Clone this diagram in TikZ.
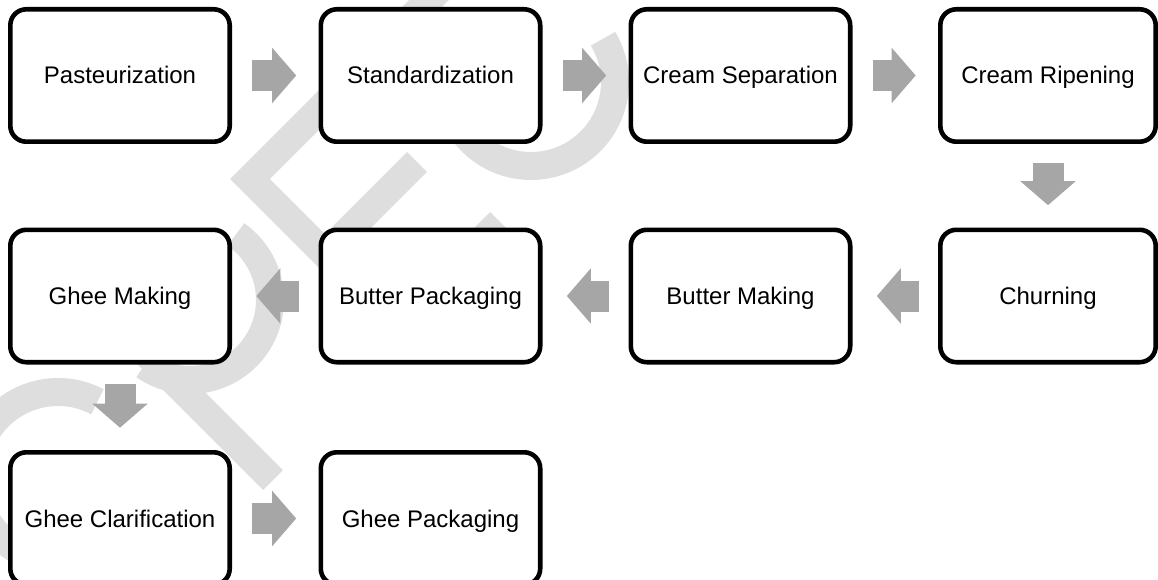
\documentclass[tikz,border=0pt]{standalone}
\usepackage{fontspec}
\setmainfont{Liberation Sans}
\usetikzlibrary{arrows.meta}
\definecolor{wm}{RGB}{222,222,222}
\definecolor{ag}{RGB}{166,166,166}
\begin{document}
\begin{tikzpicture}[x=1pt,y=-1pt,
  stepbox/.style={draw=black, line width=4.6pt, fill=white, rounded corners=16pt,
    minimum width=219.4pt, minimum height=132.4pt, inner sep=0pt,
    font=\fontsize{24}{28}\selectfont, text height=17pt, text depth=0pt},
  wmark/.style={draw=wm, line width=28pt},
  blockarrow/.style={draw=ag, line width=31pt, -{Triangle[length=24pt, width=54pt]}},
  arrowright/.style={blockarrow, shorten <=20.3pt, shorten >=22.3pt},
  arrowleft/.style={blockarrow, shorten <=19.3pt, shorten >=24.3pt},
  arrowdown/.style={blockarrow, shorten <=19.3pt, shorten >=22.3pt}]
\useasboundingbox (0,0) rectangle (1158,580);
\clip (0,0) rectangle (1158,580);
% faint watermark
\draw[wmark] (58,476) ++(-62:84) arc[start angle=-62, end angle=-250, radius=84];
\draw[wmark] (190,300) ++(-55:80) arc[start angle=-55, end angle=125, radius=80];
\draw[wmark] (273,480) -- (120,327);
\draw[wmark] (460,-31) -- (250,179) -- (400,329);
\draw[wmark] (325,254) -- (417,162);
\draw[wmark] (396,326) -- (500,222);
\draw[wmark] (531,82) ++(-31:84) arc[start angle=-31, end angle=200, radius=84];
% boxes
\node[stepbox] (n1) at (120,75.5) {Pasteurization};
\node[stepbox] (n2) at (430.5,75.5) {Standardization};
\node[stepbox] (n3) at (740.5,75.5) {Cream Separation};
\node[stepbox, minimum width=215.4pt] (n4) at (1048,75.5) {Cream Ripening};
\node[stepbox, minimum width=215.4pt] (n5) at (1048,296) {Churning};
\node[stepbox] (n6) at (740.5,296) {Butter Making};
\node[stepbox] (n7) at (430.5,296) {Butter Packaging};
\node[stepbox] (n8) at (120,296) {Ghee Making};
\node[stepbox] (n9) at (120,518.5) {Ghee Clarification};
\node[stepbox] (n10) at (430.5,518.5) {Ghee Packaging};
% arrows
\draw[arrowright] (n1.east) -- (n2.west);
\draw[arrowright] (n2.east) -- (n3.west);
\draw[arrowright] (n3.east) -- (n4.west);
\draw[arrowdown] (n4.south) -- (n5.north);
\draw[arrowleft] (n5.west) -- (n6.east);
\draw[arrowleft] (n6.west) -- (n7.east);
\draw[arrowleft] (n7.west) -- (n8.east);
\draw[arrowdown] (n8.south) -- (n9.north);
\draw[arrowright] (n9.east) -- (n10.west);
\end{tikzpicture}
\end{document}
